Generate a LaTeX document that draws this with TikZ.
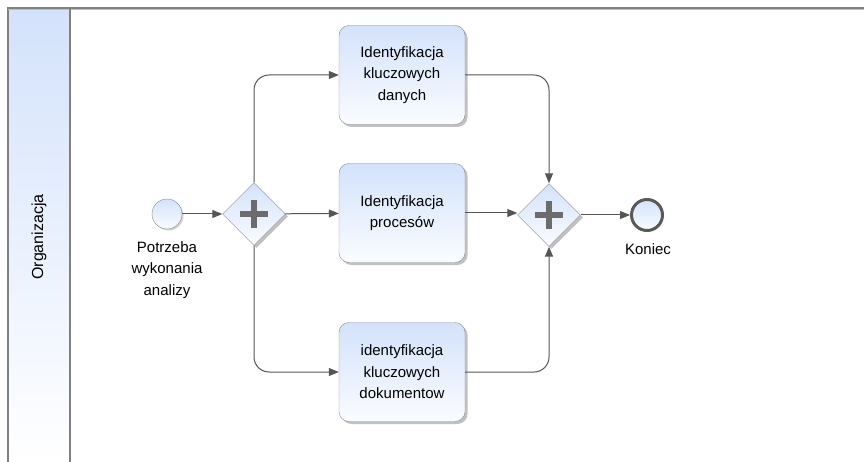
\documentclass[tikz,border=0pt]{standalone}
\usepackage{fontspec}
\setmainfont{Liberation Sans}
\usepackage{tikz}
\usetikzlibrary{shapes.geometric,shadows,arrows.meta}

\definecolor{bpmnTop}{HTML}{D3E2FB}
\definecolor{bpmnBot}{HTML}{FAFCFF}
\definecolor{bpmnLine}{HTML}{555555}
\definecolor{bpmnEdge}{HTML}{8C8C8C}

\begin{document}
\begin{tikzpicture}[x=1pt,y=-1pt]
	\tikzset{every node/.style={font=\fontsize{15}{21.5}\selectfont}}
	\tikzset{
		task/.style={rectangle,rounded corners=10pt,draw=bpmnEdge,top color=bpmnTop,bottom color=bpmnBot,
			minimum width=126pt,minimum height=99pt,align=center,
			drop shadow={shadow xshift=2.5pt,shadow yshift=-2.5pt,fill=gray!70,opacity=.7}},
		gateway/.style={diamond,draw=bpmnEdge,top color=bpmnTop,bottom color=bpmnBot,
			minimum size=63pt,inner sep=0pt,
			drop shadow={shadow xshift=2.5pt,shadow yshift=-2.5pt,fill=gray!70,opacity=.7}},
		startev/.style={circle,draw=bpmnEdge,top color=bpmnTop,bottom color=bpmnBot,minimum size=30pt,inner sep=0pt,
			drop shadow={shadow xshift=1.5pt,shadow yshift=-1.5pt,fill=gray!60,opacity=.6}},
		endev/.style={circle,draw=gray!70!black,line width=3pt,top color=bpmnTop,bottom color=bpmnBot,minimum size=31pt,inner sep=0pt},
		flow/.style={draw=bpmnLine,line width=1pt,-{Triangle[length=10pt,width=8pt]},rounded corners=15pt},
		plusmark/.style={draw=gray!85!black,line width=6pt}
	}
	\useasboundingbox (0,0) rectangle (864,462);
	% pool and lane
	\shade[top color=bpmnTop,bottom color=white] (8,8) rectangle (70,462);
	\draw[gray,line width=1.2pt] (8,462) -- (8,8) -- (864,8);
	\draw[gray!50,line width=1pt] (8,9.8) -- (864,9.8);
	\draw[gray,line width=1.2pt] (70,8) -- (70,462);
	\node[rotate=90,font=\fontsize{16}{20}\selectfont] (lane) at (39,237) {Organizacja};

	% events, gateways, tasks
	\node[startev] (start) at (167,214) {};
	\node[align=center,anchor=north] (startlbl) at (167,238) {Potrzeba\\wykonania\\analizy};
	\node[gateway] (gwsplit) at (254,214) {};
	\node[task] (taskdane) at (402,75) {Identyfikacja\\kluczowych\\danych};
	\node[task] (taskproc) at (402,213) {Identyfikacja\\procesów};
	\node[task] (taskdok) at (402,372) {identyfikacja\\kluczowych\\dokumentow};
	\node[gateway] (gwjoin) at (549,215) {};
	\node[endev] (koniec) at (647,215) {};
	\node[anchor=north] (koniecl) at (648,240) {Koniec};

	% plus signs
	\foreach \g in {gwsplit,gwjoin}{
		\draw[plusmark] ([xshift=-14pt]\g.center) -- ([xshift=14pt]\g.center);
		\draw[plusmark] ([yshift=-14pt]\g.center) -- ([yshift=14pt]\g.center);
	}

	% sequence flows
	\draw[flow] (start) -- (gwsplit);
	\draw[flow] (gwsplit.north) |- (taskdane.west);
	\draw[flow] (gwsplit) -- (taskproc);
	\draw[flow] (gwsplit.south) |- (taskdok.west);
	\draw[flow] (taskdane.east) -| (gwjoin.north);
	\draw[flow] (taskproc.east) -- (gwjoin.west |- taskproc.east);
	\draw[flow] (taskdok.east) -| (gwjoin.south);
	\draw[flow] (gwjoin) -- (koniec);
\end{tikzpicture}
\end{document}
